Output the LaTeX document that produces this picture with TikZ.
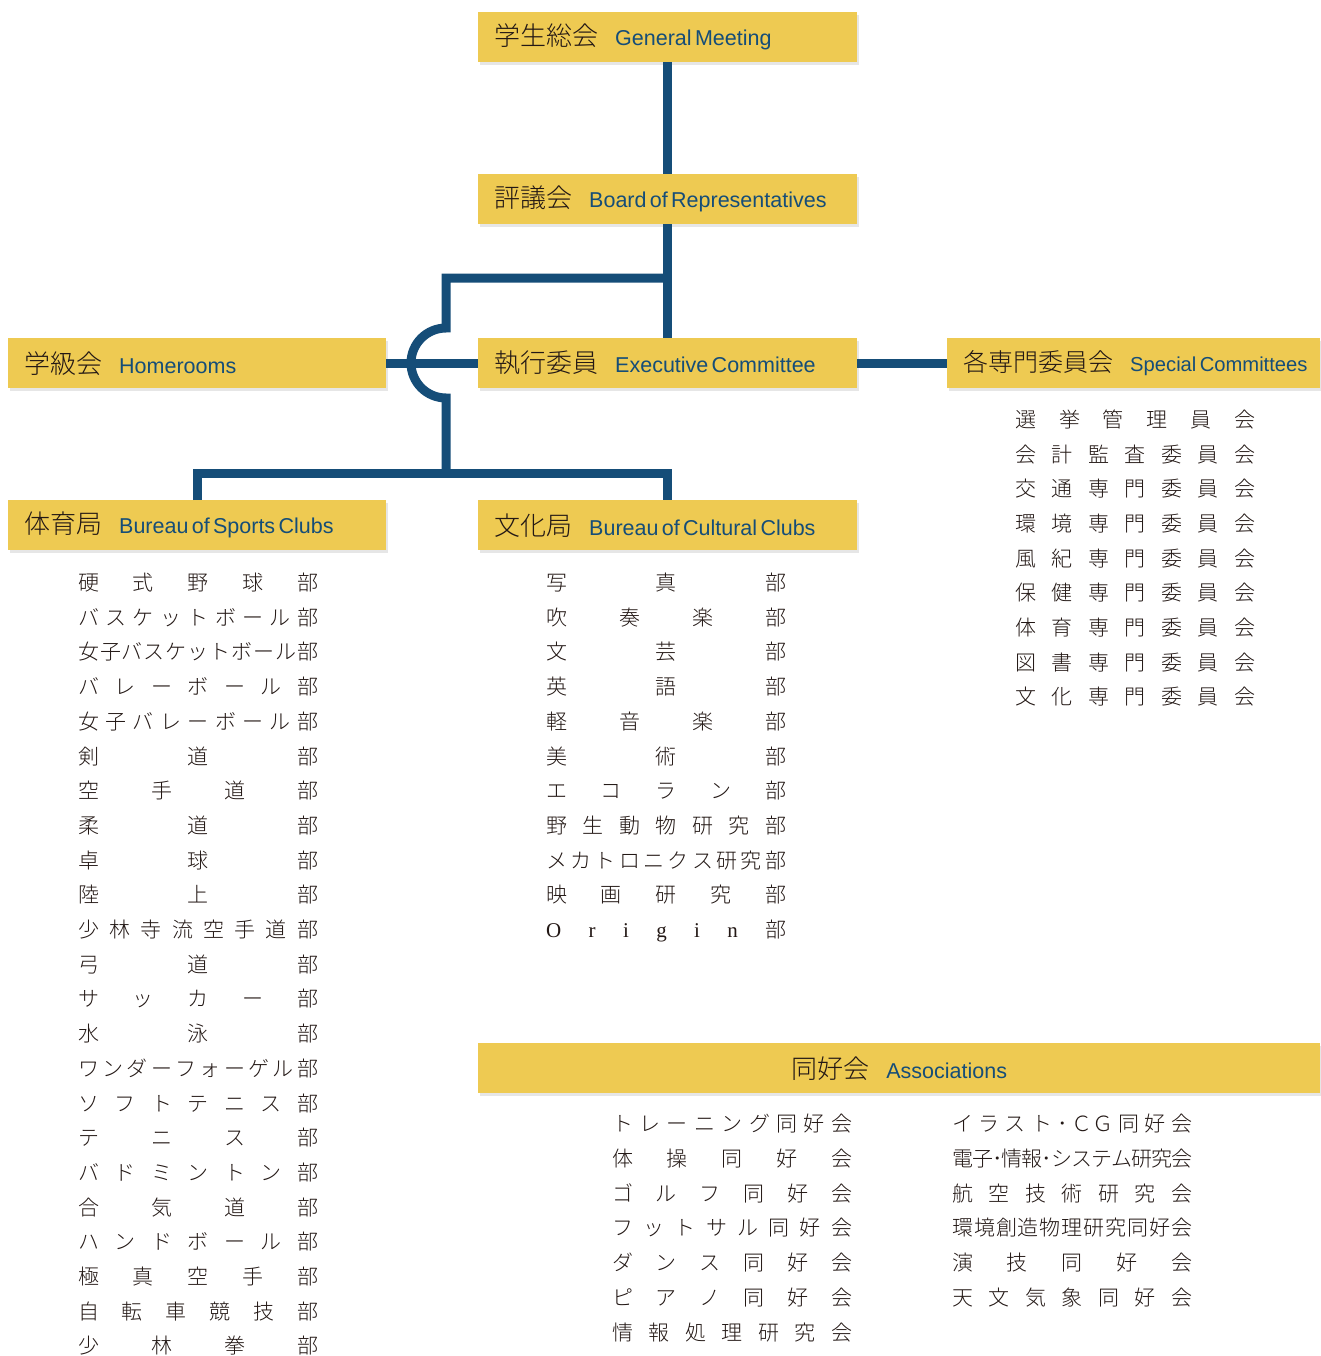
\documentclass[tikz,border=0pt]{standalone}
\usepackage{fontspec}
\setmainfont{Noto Sans CJK JP}[UprightFont={* Light}]
\newfontfamily\enfont{Liberation Sans}[WordSpace=1.45]
\newfontfamily\latserif{Liberation Serif}
\usetikzlibrary{positioning,shadows,calc}
\definecolor{gold}{RGB}{238,202,82}
\definecolor{navy}{RGB}{21,77,120}
\definecolor{ink}{RGB}{35,24,21}

% equal spreading of the characters over a fixed width
\ExplSyntaxOn
\NewDocumentCommand \kinto { O{240pt} m }
  {
    \tl_set:No \l_tmpa_tl {#2}
    \makebox[#1][s]
      {
        \tl_map_inline:Nn \l_tmpa_tl
          { {##1} \skip_horizontal:n { 0pt~plus~1fill~minus~1fill } }
        \unskip
      }
  }
\ExplSyntaxOff

\NewDocumentCommand\headtext{O{26}O{21.5}mm}{%
  \mbox{{\fontsize{#1}{#1}\selectfont #3}\hspace{17pt}%
  {\enfont\fontsize{#2}{#2}\selectfont\color{navy}#4}}}

\begin{document}
\begin{tikzpicture}[
    x=1pt, y=1pt,
    hdr/.style={rectangle, fill=gold, anchor=north west, minimum height=50pt,
        inner xsep=16pt, inner ysep=0pt, align=left, text=ink,
        drop shadow={shadow xshift=2pt, shadow yshift=-3pt, opacity=0.2}},
    link/.style={draw=navy, line width=9pt},
    item/.style={anchor=west, inner sep=0pt, text=ink,
        font=\fontsize{21}{24}\selectfont, text height=18pt, text depth=3pt}
]
\useasboundingbox (0,0) rectangle (1320,-1356);

% Headers
\node[hdr, text width=347pt] (gm) at (478,-12) {\headtext{学生総会}{General Meeting}};
\node[hdr, text width=347pt] (bor) at (478,-174) {\headtext{評議会}{Board of Representatives}};
\node[hdr, text width=346pt] (home) at (8,-338) {\headtext{学級会}{Homerooms}};
\node[hdr, text width=347pt] (exec) at (478,-338) {\headtext{執行委員}{Executive Committee}};
\node[hdr, text width=341pt] (spec) at (947,-338) {\headtext[25][20.2]{各専門委員会}{Special Committees}};
\node[hdr, text width=346pt] (sport) at (8,-500) {\headtext{体育局}{Bureau of Sports Clubs}};
\node[hdr, text width=347pt] (cult) at (478,-500) {\headtext{文化局}{Bureau of Cultural Clubs}};
\node[hdr, text width=810pt, align=center] (assoc) at (478,-1043) {\headtext{同好会}{Associations}};

% Connectors
\coordinate (upper) at (667.5,-278);
\coordinate (hop) at (446,-363);
\coordinate (lower) at (446,-473);

\draw[link] (gm.south) -- (bor.north);
\draw[link] (bor.south) -- (exec.north);
\draw[link] (home.east) -- (exec.west);
\draw[link] (exec.east) -- (spec.west);
\draw[link] (upper) -| ([yshift=35pt]hop) arc[start angle=90, end angle=270, radius=35pt] -- (lower);
\draw[link] (sport.north) |- (lower) -| (cult.north);

% Sports clubs
\foreach \txt [count=\i] in {硬式野球部, バスケットボール部, 女子バスケットボール部,
    バレーボール部, 女子バレーボール部, 剣道部, 空手道部, 柔道部, 卓球部, 陸上部,
    少林寺流空手道部, 弓道部, サッカー部, 水泳部, ワンダーフォーゲル部, ソフトテニス部,
    テニス部, バドミントン部, 合気道部, ハンドボール部, 極真空手部, 自転車競技部, 少林拳部}
  \node[item] (sp\i) at (78,{-583-34.7*(\i-1)}) {\kinto{\txt}};

% Cultural clubs
\foreach \txt [count=\i] in {写真部, 吹奏楽部, 文芸部, 英語部, 軽音楽部, 美術部,
    エコラン部, 野生動物研究部, メカトロニクス研究部, 映画研究部,
    {\latserif O}{\latserif r}{\latserif i}{\latserif g}{\latserif i}{\latserif n}部}
  \node[item] (cu\i) at (546,{-583-34.7*(\i-1)}) {\kinto{\txt}};

% Special committees
\foreach \txt [count=\i] in {選挙管理員会, 会計監査委員会, 交通専門委員会, 環境専門委員会,
    風紀専門委員会, 保健専門委員会, 体育専門委員会, 図書専門委員会, 文化専門委員会}
  \node[item] (sc\i) at (1015,{-420-34.65*(\i-1)}) {\kinto{\txt}};

% Associations
\foreach \txt [count=\i] in {トレーニング同好会, 体操同好会, ゴルフ同好会, フットサル同好会,
    ダンス同好会, ピアノ同好会, 情報処理研究会}
  \node[item] (al\i) at (612,{-1124-34.8*(\i-1)}) {\kinto{\txt}};
\foreach \txt [count=\i] in {イラスト{･\,ＣＧ}同好会, 電子･情報･システム研究会, 航空技術研究会,
    環境創造物理研究同好会, 演技同好会, 天文気象同好会}
  \node[item] (ar\i) at (952,{-1124-34.8*(\i-1)}) {\kinto{\txt}};

\end{tikzpicture}
\end{document}
